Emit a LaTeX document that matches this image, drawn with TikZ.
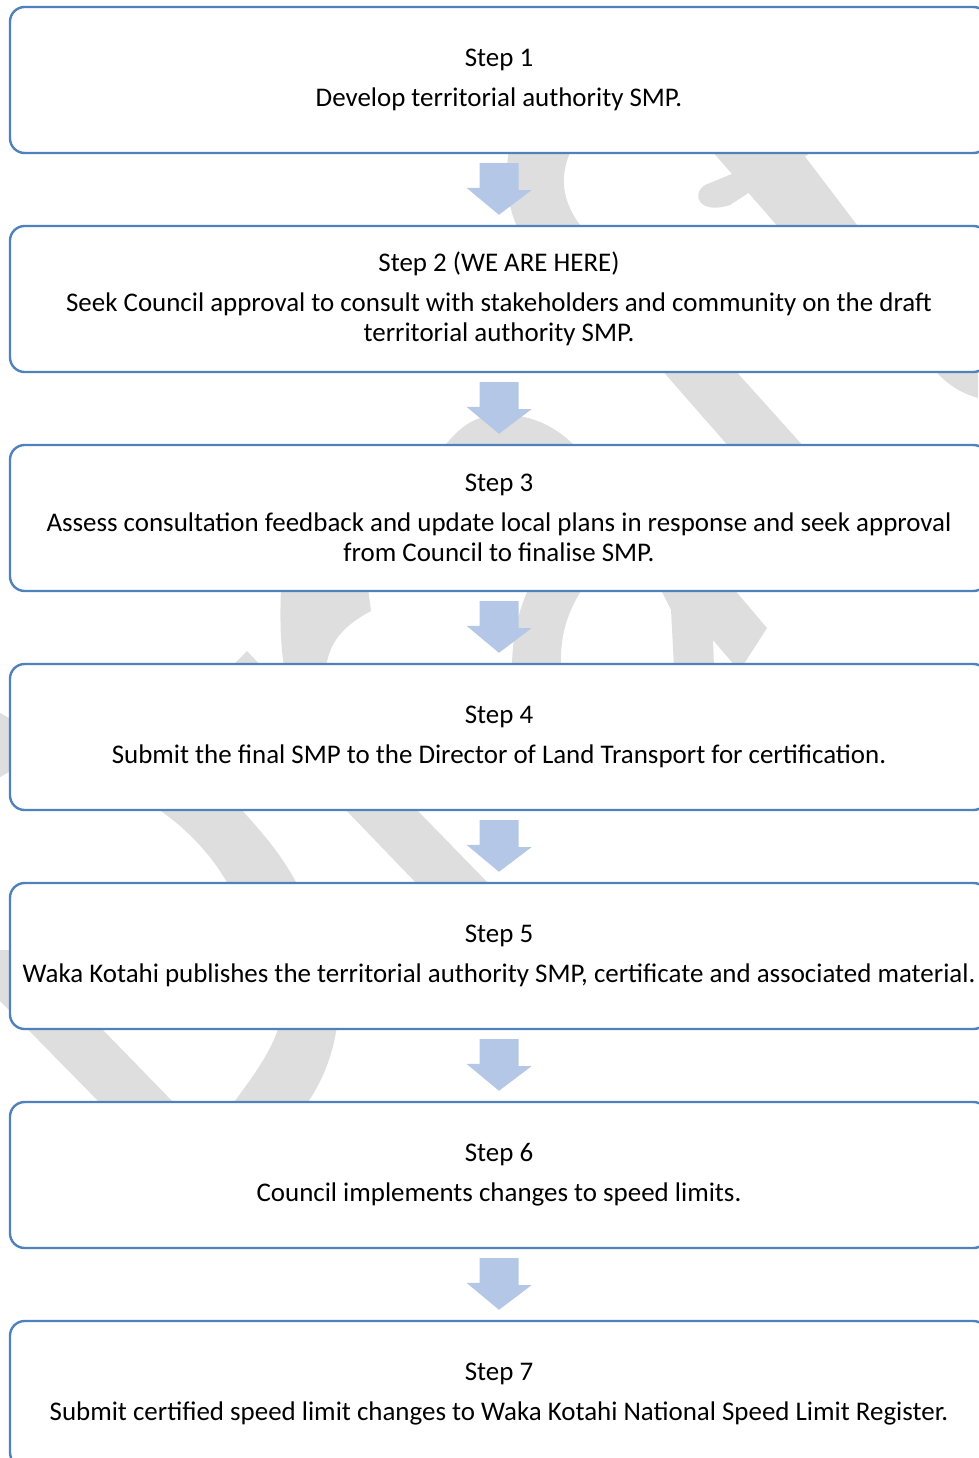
\documentclass[tikz,border=0pt]{standalone}
\usepackage{fontspec}
\setmainfont{Carlito}
\usetikzlibrary{calc}
\definecolor{boxblue}{RGB}{79,129,189}
\definecolor{arrowblue}{RGB}{180,199,231}
\definecolor{wmgray}{RGB}{222,222,222}
\begin{document}
\begin{tikzpicture}[x=0.75pt,y=-0.75pt,
  stepbox/.style={draw=boxblue, line width=1.8pt, rounded corners=11pt, fill=white,
    minimum width=733.5pt, minimum height=109.5pt, inner sep=0pt,
    font=\fontsize{20.2}{22.5}\selectfont, align=center, text=black},
  wm/.style={fill=wmgray},
  blockarrow/.style={fill=arrowblue}]
\useasboundingbox (0,0) rectangle (978,1458);
% watermark pieces (visible between the boxes)
% gap 1
\fill[wm] (509,150) -- (571,150) .. controls (560,175) and (560,200) .. (583,229) -- (518,229) .. controls (505,200) and (505,175) .. (509,150) -- cycle;
\fill[wm] (711,150) -- (800,150) -- (860,229) -- (780,229) -- cycle;
\fill[wm] (790,150) -- (815,150) -- (730,205) .. controls (700,215) and (690,195) .. (705,185) -- cycle;
% gap 2
\fill[wm] (660,368) -- (733,368) -- (805,448) -- (730,448) -- cycle;
\fill[wm] (933,368) -- (978,368) -- (978,398) .. controls (960,393) and (945,383) .. (933,368) -- cycle;
\fill[wm] (443,448) .. controls (465,420) and (480,415) .. (505,415) .. controls (530,415) and (555,425) .. (577,448) -- cycle;
% gap 3
\fill[wm] (281,588) -- (368,588) -- (371,611) .. controls (345,625) and (330,640) .. (326,667) -- (284,667) .. controls (280,640) and (280,615) .. (281,588) -- cycle;
\fill[wm] (231,667) -- (247,651) -- (262,667) -- cycle;
\fill[wm] (529,588) -- (583,588) .. controls (565,615) and (560,640) .. (561,667) -- (512,667) .. controls (512,640) and (518,610) .. (529,588) -- cycle;
\fill[wm] (660,588) -- (733,588) -- (767,628) -- (742,667) -- (736,667) -- (713,640) -- (714,667) -- (674,667) -- (671,610) -- cycle;
% gap 4
\fill[wm] (155,807) -- (239,807) .. controls (265,835) and (285,860) .. (298,886) -- (229,886) .. controls (215,860) and (190,830) .. (155,807) -- cycle;
\fill[wm] (343,807) -- (414,807) -- (491,886) -- (419,886) -- cycle;
% gap 5 and left margin
\fill[wm] (-50,950) -- (25,950) -- (176,1105) -- (102,1105) -- cycle;
\fill[wm] (279,1026) -- (337,1026) .. controls (332,1060) and (320,1085) .. (306,1105) -- (232,1105) .. controls (250,1080) and (270,1055) .. (279,1026) -- cycle;
\fill[wm] (-40,690) -- (30,730) -- (30,760) -- (-40,800) -- cycle;
% boxes
\node[stepbox] (b1) at (499,80)   {Step 1\\[7.5pt]Develop territorial authority SMP.};
\node[stepbox] (b2) at (499,299)  {Step 2 (WE ARE HERE)\\[7.5pt]Seek Council approval to consult with stakeholders and community on the draft\\territorial authority SMP.};
\node[stepbox] (b3) at (499,518)  {Step 3\\[7.5pt]Assess consultation feedback and update local plans in response and seek approval\\from Council to finalise SMP.};
\node[stepbox] (b4) at (499,737)  {Step 4\\[7.5pt]Submit the final SMP to the Director of Land Transport for certification.};
\node[stepbox] (b5) at (499,956)  {Step 5\\[7.5pt]Waka Kotahi publishes the territorial authority SMP, certificate and associated material.};
\node[stepbox] (b6) at (499,1175) {Step 6\\[7.5pt]Council implements changes to speed limits.};
\node[stepbox] (b7) at (499,1394) {Step 7\\[7.5pt]Submit certified speed limit changes to Waka Kotahi National Speed Limit Register.};
% block arrows
\foreach \i/\j in {1/2,2/3,3/4,4/5,5/6,6/7}{
  \fill[blockarrow] ($(b\i.south)+(-19.5,9)$) -- ++(39,0) -- ++(0,27) -- ++(13,0)
    -- ($(b\j.north)+(0,-10)$) -- ++(-32.5,-27) -- ++(13,0) -- cycle;
}
\end{tikzpicture}
\end{document}
